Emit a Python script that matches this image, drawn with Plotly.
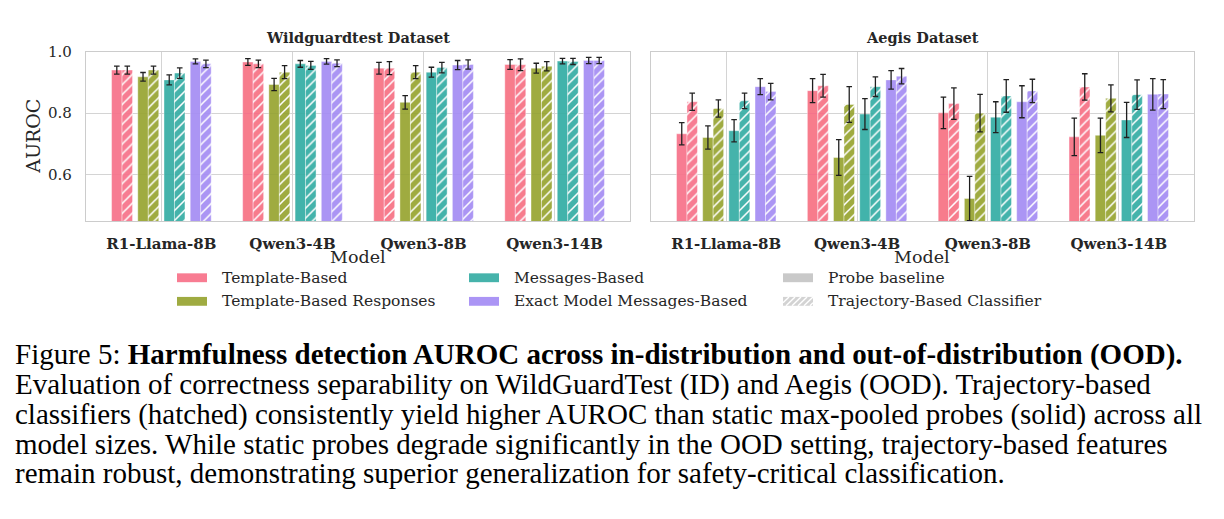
import plotly.graph_objects as go

W, H = 1224, 519

MODELS = ["R1-Llama-8B", "Qwen3-4B", "Qwen3-8B", "Qwen3-14B"]
METHODS = ["Template-Based", "Template-Based Responses", "Messages-Based", "Exact Model Messages-Based"]
COLORS = ["#f77189", "#97a431", "#36ada4", "#a48cf4"]
DATASETS = ["Wildguardtest Dataset", "Aegis Dataset"]
Y_TICKS = [0.6, 0.8, 1.0]
STYLE_LABELS = ["Probe baseline", "Trajectory-Based Classifier"]

# Wildguardtest (rows = methods, cols = models)
WG_PROBE = [[0.940, 0.966, 0.946, 0.958],
            [0.918, 0.893, 0.835, 0.946],
            [0.908, 0.960, 0.933, 0.969],
            [0.968, 0.968, 0.956, 0.971]]
WG_PROBE_ERR = [[0.013, 0.011, 0.019, 0.016],
                [0.014, 0.020, 0.022, 0.016],
                [0.016, 0.011, 0.016, 0.009],
                [0.008, 0.009, 0.015, 0.010]]
WG_TRAJ = [[0.940, 0.960, 0.946, 0.957],
           [0.940, 0.933, 0.933, 0.952],
           [0.930, 0.955, 0.948, 0.968],
           [0.960, 0.962, 0.958, 0.971]]
WG_TRAJ_ERR = [[0.013, 0.012, 0.021, 0.019],
               [0.013, 0.021, 0.021, 0.015],
               [0.017, 0.013, 0.017, 0.010],
               [0.012, 0.011, 0.015, 0.010]]

# Aegis
AE_PROBE = [[0.733, 0.873, 0.801, 0.723],
            [0.721, 0.656, 0.523, 0.728],
            [0.743, 0.797, 0.787, 0.778],
            [0.886, 0.908, 0.837, 0.861]]
AE_PROBE_ERR = [[0.036, 0.039, 0.051, 0.061],
                [0.038, 0.058, 0.072, 0.056],
                [0.036, 0.050, 0.050, 0.057],
                [0.026, 0.030, 0.052, 0.051]]
AE_TRAJ = [[0.837, 0.889, 0.831, 0.885],
           [0.815, 0.828, 0.800, 0.848],
           [0.840, 0.886, 0.856, 0.860],
           [0.870, 0.920, 0.872, 0.862]]
AE_TRAJ_ERR = [[0.028, 0.037, 0.051, 0.043],
               [0.028, 0.058, 0.061, 0.044],
               [0.025, 0.032, 0.053, 0.048],
               [0.027, 0.025, 0.038, 0.047]]

CAPTION = [
    "Figure 5: <b>Harmfulness detection AUROC across in-distribution and out-of-distribution (OOD).</b>",
    "Evaluation of correctness separability on WildGuardTest (ID) and Aegis (OOD). Trajectory-based",
    "classifiers (hatched) consistently yield higher AUROC than static max-pooled probes (solid) across all",
    "model sizes. While static probes degrade significantly in the OOD setting, trajectory-based features",
    "remain robust, demonstrating superior generalization for safety-critical classification.",
]

def px(x):
    return x / W

def py(y):
    return 1 - y / H

TXT = "#262626"
SERIF = "DejaVu Serif"
BAR_W = 0.08
GROUP_STEP = 0.2

fig = go.Figure()

panels = [(WG_PROBE, WG_PROBE_ERR, WG_TRAJ, WG_TRAJ_ERR, "x", "y"),
          (AE_PROBE, AE_PROBE_ERR, AE_TRAJ, AE_TRAJ_ERR, "x2", "y2")]

for probe, perr, traj, terr, xa, ya in panels:
    for m, color in enumerate(COLORS):
        center = (m - 1.5) * GROUP_STEP
        xs_p = [i + center - BAR_W / 2 for i in range(len(MODELS))]
        xs_t = [i + center + BAR_W / 2 for i in range(len(MODELS))]
        fig.add_trace(go.Bar(
            x=xs_p, y=probe[m], width=BAR_W, xaxis=xa, yaxis=ya,
            marker=dict(color=color, line=dict(color="white", width=0.4)),
            opacity=0.92, showlegend=False, name=METHODS[m],
            error_y=dict(type="data", array=perr[m], color="#111111",
                         thickness=1.3, width=2.8)))
        fig.add_trace(go.Bar(
            x=xs_t, y=traj[m], width=BAR_W, xaxis=xa, yaxis=ya,
            marker=dict(color=color, line=dict(color="white", width=0.4),
                        pattern=dict(shape="/", fgcolor="white", bgcolor=color,
                                     size=7, solidity=0.22, fillmode="replace")),
            opacity=0.92, showlegend=False, name=METHODS[m] + " (trajectory)",
            error_y=dict(type="data", array=terr[m], color="#111111",
                         thickness=1.3, width=2.8)))

axis_common = dict(showline=True, mirror=True, linecolor="#cccccc", linewidth=1.3,
                   showgrid=True, gridcolor="#d4d4d4", gridwidth=1, zeroline=False,
                   ticks="")
xcommon = dict(axis_common, tickmode="array", tickvals=list(range(len(MODELS))),
               ticktext=["<b>%s</b>" % m for m in MODELS], range=[-0.575, 3.575],
               tickfont=dict(family=SERIF, size=15, color=TXT), ticklabelstandoff=9)
ycommon = dict(axis_common, range=[0.45, 1.0], tickmode="array", tickvals=Y_TICKS,
               ticktext=["%.1f" % v for v in Y_TICKS],
               tickfont=dict(family=SERIF, size=15, color=TXT), ticklabelstandoff=10)

ydom = [py(215.7), py(43.3)]
fig.update_layout(
    width=W, height=H, margin=dict(l=0, r=0, t=0, b=0),
    paper_bgcolor="white", plot_bgcolor="white", barmode="overlay",
    xaxis=dict(xcommon, domain=[px(86), px(630)], anchor="y"),
    yaxis=dict(ycommon, domain=ydom, anchor="x"),
    xaxis2=dict(xcommon, domain=[px(651), px(1194)], anchor="y2"),
    yaxis2=dict(ycommon, domain=ydom, anchor="x2", showticklabels=False, matches="y"),
    showlegend=False,
)

ann = []
# subplot titles and x-axis titles
for name, cx in zip(DATASETS, [358, 922]):
    ann.append(dict(text="<b>%s</b>" % name, x=px(cx), y=py(29), xref="paper", yref="paper",
                    showarrow=False, xanchor="center", yanchor="middle",
                    font=dict(family=SERIF, size=14.5, color=TXT)))
    ann.append(dict(text="Model", x=px(cx), y=py(252), xref="paper", yref="paper",
                    showarrow=False, xanchor="center", yanchor="middle",
                    font=dict(family=SERIF, size=17.5, color=TXT)))
ann.append(dict(text="AUROC", x=px(33), y=py(130), xref="paper", yref="paper",
                showarrow=False, textangle=-90, xanchor="center", yanchor="middle",
                font=dict(family=SERIF, size=19, color=TXT)))

# manual legend (patches + labels)
shapes = []
legend_items = [(METHODS[0], COLORS[0], False), (METHODS[1], COLORS[1], False),
                (METHODS[2], COLORS[2], False), (METHODS[3], COLORS[3], False),
                (STYLE_LABELS[0], "#c4c4c4", False), (STYLE_LABELS[1], "#cfcfcf", True)]
col_x = [177, 469, 783]
row_y = [273.5, 297.5]
pw, ph = 30, 9
for k, (label, color, hatch) in enumerate(legend_items):
    cx0 = col_x[k // 2]
    cy = row_y[k % 2]
    x0, x1 = cx0, cx0 + pw
    y0, y1 = cy - ph / 2, cy + ph / 2
    shapes.append(dict(type="rect", xref="paper", yref="paper",
                       x0=px(x0), x1=px(x1), y0=py(y1), y1=py(y0),
                       fillcolor=color, opacity=0.92, line=dict(width=0), layer="above"))
    if hatch:
        step = 6
        s = x0 - ph
        while s < x1:
            a, b = s, s + ph
            ya_, yb_ = y1, y0
            if a < x0:
                ya_ = y1 - (x0 - a)
                a = x0
            if b > x1:
                yb_ = y0 + (b - x1)
                b = x1
            if b > a:
                shapes.append(dict(type="line", xref="paper", yref="paper",
                                   x0=px(a), y0=py(ya_), x1=px(b), y1=py(yb_),
                                   line=dict(color="white", width=1.4), layer="above"))
            s += step
    ann.append(dict(text=label, x=px(x1 + 13), y=py(cy), xref="paper", yref="paper",
                    showarrow=False, xanchor="left", yanchor="middle",
                    font=dict(family=SERIF, size=15.5, color=TXT)))

# caption
for i, line in enumerate(CAPTION):
    ann.append(dict(text=line, x=px(13), y=py(352 + i * 30.1), xref="paper", yref="paper",
                    showarrow=False, xanchor="left", yanchor="middle",
                    font=dict(family="Liberation Serif", size=29, color="black")))

fig.update_layout(annotations=ann, shapes=shapes)
fig.write_html("out.html")
